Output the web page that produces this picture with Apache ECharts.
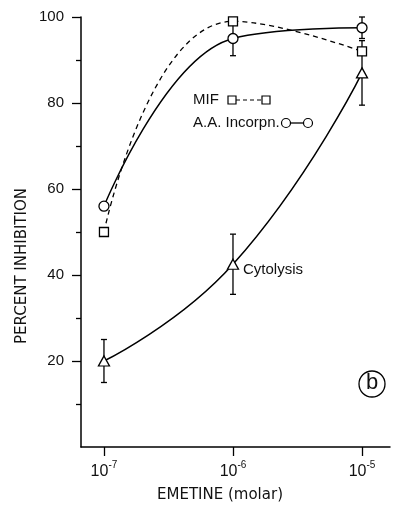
<!DOCTYPE html>
<html>
<head>
<meta charset="utf-8">
<script src="https://cdn.jsdelivr.net/npm/echarts@6/dist/echarts.min.js"></script>
<style>
html,body{margin:0;padding:0;background:#fff;}
#chart{width:395px;height:506px;}
</style>
</head>
<body>
<div id="chart"></div>
<script>
// Emetine concentration, as log10(molar)
const concentrationExp = [-7, -6, -5];
// MIF inhibition (%)
const mifValues = [50, 99, 92];
// A.A. incorporation inhibition (%)
const aaValues = [56, 95, 97.5];
const aaErrors = [0, 4, 2.5];
// Cytolysis inhibition (%)
const cytoValues = [20, 42.5, 87];
const cytoErrors = [5, 7, 7.5];
// tick labels
const xTickExps = [-7, -6, -5];
const yTickLabels = [20, 40, 60, 80, 100];

const FONT = 'Liberation Sans';

function pairs(xs, ys) { return xs.map((x, i) => [x, ys[i]]); }
function triples(xs, ys, es) { return xs.map((x, i) => [x, ys[i], es[i]]); }

function errorRender(params, api) {
  const x = api.value(0), y = api.value(1), e = api.value(2);
  if (!e) return null;
  const top = api.coord([x, y + e]);
  const bot = api.coord([x, y - e]);
  const cap = 3;
  const st = { stroke: '#000', lineWidth: 1.3 };
  return {
    type: 'group',
    children: [
      { type: 'line', shape: { x1: top[0], y1: top[1], x2: bot[0], y2: bot[1] }, style: st },
      { type: 'line', shape: { x1: top[0] - cap, y1: top[1], x2: top[0] + cap, y2: top[1] }, style: st },
      { type: 'line', shape: { x1: bot[0] - cap, y1: bot[1], x2: bot[0] + cap, y2: bot[1] }, style: st }
    ]
  };
}

const markerStyle = { color: '#fff', borderColor: '#000', borderWidth: 1.3 };

const chart = echarts.init(document.getElementById('chart'), null, { renderer: 'canvas' });
chart.setOption({
  backgroundColor: '#fff',
  animation: false,
  grid: { left: 81, right: 5, top: 17, bottom: 59, containLabel: false },
  xAxis: {
    type: 'value',
    min: -7.178,
    max: -4.783,
    splitLine: { show: false },
    axisLine: { lineStyle: { color: '#000', width: 1.5 } },
    axisTick: { customValues: xTickExps, length: 9, lineStyle: { color: '#000', width: 1.3 } },
    axisLabel: {
      customValues: xTickExps,
      margin: 11,
      color: '#111',
      formatter: function (v) { return '{b|10}{s|' + (v < 0 ? '-' : '') + Math.abs(v) + '}'; },
      rich: {
        b: { fontSize: 16, fontFamily: FONT, color: '#111', padding: [6, 0, 0, 0] },
        s: { fontSize: 10, fontFamily: FONT, color: '#111', padding: [0, 0, 8, 0] }
      }
    }
  },
  yAxis: {
    type: 'value',
    min: 0,
    max: 100,
    interval: 20,
    splitLine: { show: false },
    axisLine: { lineStyle: { color: '#000', width: 1.5 } },
    axisTick: { customValues: yTickLabels, length: 9, lineStyle: { color: '#000', width: 1.3 } },
    minorTick: { show: true, splitNumber: 2, length: 5, lineStyle: { color: '#000', width: 1.3 } },
    axisLabel: { customValues: yTickLabels, margin: 17, fontSize: 15, fontFamily: FONT, color: '#111' }
  },
  series: [
    {
      type: 'custom', name: 'aaErr', renderItem: errorRender, z: 2,
      data: triples(concentrationExp, aaValues, aaErrors)
    },
    {
      type: 'custom', name: 'cytoErr', renderItem: errorRender, z: 2,
      data: triples(concentrationExp, cytoValues, cytoErrors)
    },
    {
      type: 'line', name: 'Cytolysis', smooth: true, z: 3,
      symbol: 'triangle', symbolSize: [11, 10], showAllSymbol: true,
      lineStyle: { color: '#000', width: 1.5 },
      itemStyle: markerStyle,
      data: pairs(concentrationExp, cytoValues)
    },
    {
      type: 'line', name: 'MIF', smooth: true, z: 4,
      symbol: 'rect', symbolSize: 9, showAllSymbol: true,
      lineStyle: { color: '#000', width: 1.3, type: [5, 4] },
      itemStyle: markerStyle,
      data: pairs(concentrationExp, mifValues)
    },
    {
      type: 'line', name: 'A.A. Incorpn.', smooth: 0.42, z: 5,
      symbol: 'circle', symbolSize: 10, showAllSymbol: true,
      lineStyle: { color: '#000', width: 1.5 },
      itemStyle: markerStyle,
      data: pairs(concentrationExp, aaValues)
    }
  ],
  graphic: [
    { type: 'text', x: 22, y: 266, rotation: Math.PI / 2,
      style: { text: 'PERCENT INHIBITION', font: '15px "DejaVu Sans"', fill: '#111', align: 'center', verticalAlign: 'middle' } },
    { type: 'text', x: 220, y: 495,
      style: { text: 'EMETINE (molar)', font: '15px "DejaVu Sans"', fill: '#111', align: 'center', verticalAlign: 'middle' } },
    { type: 'text', x: 193, y: 100,
      style: { text: 'MIF', font: '15px "Liberation Sans"', fill: '#111', align: 'left', verticalAlign: 'middle' } },
    { type: 'rect', shape: { x: 228, y: 96, width: 8, height: 8 }, style: { fill: '#fff', stroke: '#000', lineWidth: 1.2 } },
    { type: 'line', shape: { x1: 236, y1: 100, x2: 262, y2: 100 }, style: { stroke: '#000', lineWidth: 1.2, lineDash: [4, 3] } },
    { type: 'rect', shape: { x: 262, y: 96, width: 8, height: 8 }, style: { fill: '#fff', stroke: '#000', lineWidth: 1.2 } },
    { type: 'text', x: 193, y: 123,
      style: { text: 'A.A. Incorpn.', font: '15px "Liberation Sans"', fill: '#111', align: 'left', verticalAlign: 'middle' } },
    { type: 'circle', shape: { cx: 286, cy: 123, r: 4.5 }, style: { fill: '#fff', stroke: '#000', lineWidth: 1.2 } },
    { type: 'line', shape: { x1: 290.5, y1: 123, x2: 303.5, y2: 123 }, style: { stroke: '#000', lineWidth: 1.3 } },
    { type: 'circle', shape: { cx: 308, cy: 123, r: 4.5 }, style: { fill: '#fff', stroke: '#000', lineWidth: 1.2 } },
    { type: 'text', x: 243, y: 270,
      style: { text: 'Cytolysis', font: '15px "Liberation Sans"', fill: '#111', align: 'left', verticalAlign: 'middle' } },
    { type: 'circle', shape: { cx: 372, cy: 384, r: 13 }, style: { fill: 'none', stroke: '#000', lineWidth: 1.3 } },
    { type: 'text', x: 372, y: 383,
      style: { text: 'b', font: '22px "Liberation Sans"', fill: '#111', align: 'center', verticalAlign: 'middle' } }
  ]
});
</script>
</body>
</html>
